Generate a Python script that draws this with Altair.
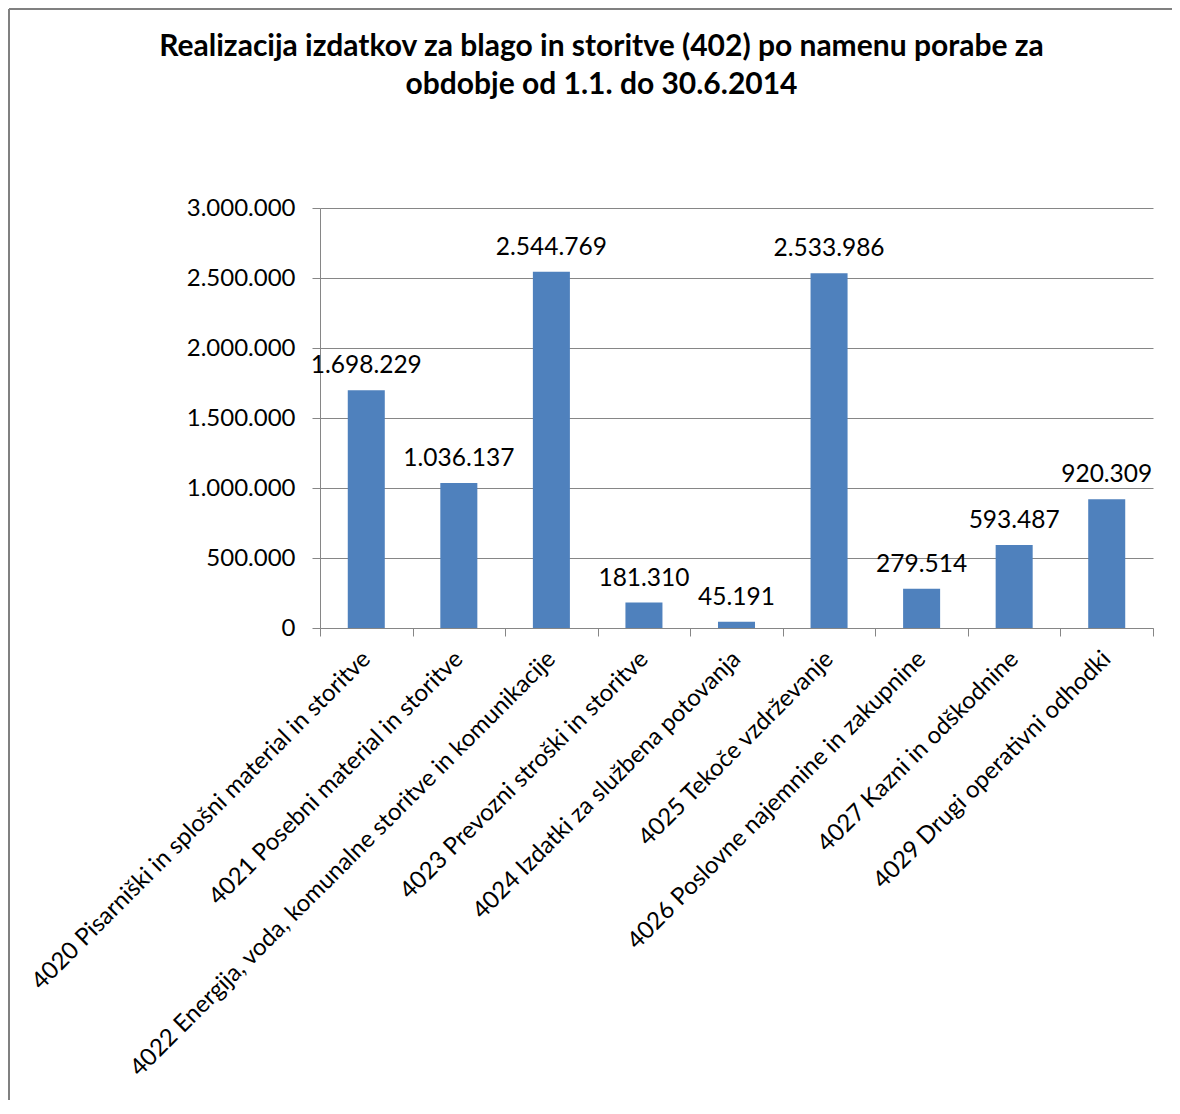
import altair as alt
import pandas as pd

categories = [
    "4020 Pisarniški in splošni material in storitve",
    "4021 Posebni material in storitve",
    "4022 Energija, voda, komunalne storitve in komunikacije",
    "4023 Prevozni stroški in storitve",
    "4024 Izdatki za službena potovanja",
    "4025 Tekoče vzdrževanje",
    "4026 Poslovne najemnine in zakupnine",
    "4027 Kazni in odškodnine",
    "4029 Drugi operativni odhodki",
]
values = [1698229, 1036137, 2544769, 181310, 45191, 2533986, 279514, 593487, 920309]
y_ticks = [0, 500000, 1000000, 1500000, 2000000, 2500000, 3000000]
title_lines = [
    "Realizacija izdatkov za blago in storitve (402) po namenu porabe za",
    "obdobje  od 1.1. do 30.6.2014",
]

df = pd.DataFrame({"kategorija": categories, "vrednost": values})

FONT = "Lato"
GRAY = "#868686"
fmt_axis = "replace(format(datum.value, ','), regexp(',', 'g'), '.')"
fmt_data = "replace(format(datum.vrednost, ','), regexp(',', 'g'), '.')"

x_enc = alt.X(
    "kategorija:N",
    sort=categories,
    title=None,
    scale=alt.Scale(paddingInner=0, paddingOuter=0),
    axis=alt.Axis(
        labelAngle=-45,
        labelAlign="right",
        labelBaseline="middle",
        labelPadding=19,
        tickBand="extent",
        tickSize=8,
        tickColor=GRAY,
        domainColor=GRAY,
        labelFont=FONT,
        labelFontSize=24,
        labelColor="#000000",
        labelLimit=0,
        labelOverlap=False,
    ),
)
y_enc = alt.Y(
    "vrednost:Q",
    title=None,
    scale=alt.Scale(domain=[0, 3000000]),
    axis=alt.Axis(
        values=y_ticks,
        labelExpr=fmt_axis,
        grid=True,
        gridColor=GRAY,
        tickColor=GRAY,
        domainColor=GRAY,
        tickSize=8,
        labelPadding=17,
        labelFont=FONT,
        labelFontSize=24,
        labelColor="#000000",
    ),
)

one = pd.DataFrame({"f": [0]})
frame_top = alt.Chart(one).mark_rule(
    stroke="#808080", strokeWidth=2, clip=False
).encode(x=alt.value(-311), x2=alt.value(900), y=alt.value(-199))
frame_left = alt.Chart(one).mark_rule(
    stroke="#808080", strokeWidth=2, clip=False
).encode(x=alt.value(-311), y=alt.value(-199), y2=alt.value(950))

bars = alt.Chart(df).mark_bar(
    width=alt.RelativeBandSize(0.4), color="#4F81BD"
).encode(x=x_enc, y=y_enc)

labels = alt.Chart(df).transform_calculate(lbl=fmt_data).mark_text(
    baseline="bottom", dy=-12, font=FONT, fontSize=24.5, color="#000000"
).encode(x=alt.X("kategorija:N", sort=categories), y="vrednost:Q", text="lbl:N")

chart = alt.layer(frame_top, frame_left, bars, labels).properties(
    width=833,
    height=420,
    padding={"left": 312, "top": 200, "right": 19, "bottom": 472},
    autosize=alt.AutoSizeParams(type="none"),
    title=alt.Title(
        text=title_lines,
        font=FONT,
        fontSize=30,
        fontWeight="bold",
        lineHeight=38,
        dx=-135,
        dy=92,
        offset=0,
        color="#000000",
    ),
).configure_view(strokeWidth=0)

chart.save("out.html", embed_options={"renderer": "svg", "actions": False})
